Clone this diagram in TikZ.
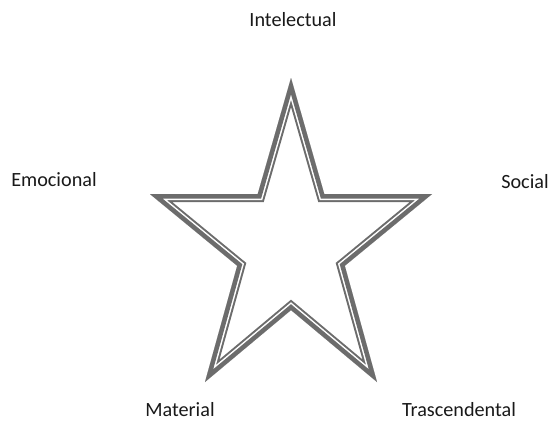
\documentclass[tikz,border=0pt]{standalone}
\usepackage{fontspec}
\setmainfont{Carlito}
\usetikzlibrary{positioning}
\definecolor{stargray}{RGB}{108,108,108}
\tikzset{lbl/.style={font=\fontsize{11.5}{13}\selectfont,text=black!90}}

\begin{document}
\begin{tikzpicture}[x=0.02cm,y=-0.02cm]
\useasboundingbox (0,0) rectangle (552,420);
% star corners, outer edge of the outline
\coordinate (tp) at (291,78);
\coordinate (iur) at (324.3,194.1);
\coordinate (rt) at (432,194.1);
\coordinate (ilr) at (344.8,265.8);
\coordinate (br) at (377,382);
\coordinate (ibt) at (291,310.1);
\coordinate (bl) at (205,382);
\coordinate (ill) at (237.2,265.8);
\coordinate (lf) at (150,194.1);
\coordinate (iul) at (257.7,194.1);
\def\starpath{(tp)--(iur)--(rt)--(ilr)--(br)--(ibt)--(bl)--(ill)--(lf)--(iul)--cycle}
% outline: thick band, white gap, thin line
\begin{scope}
\clip \starpath;
\draw[stargray,line width=0.32cm] \starpath;
\draw[white,line width=0.24cm] \starpath;
\draw[stargray,line width=0.18cm] \starpath;
\end{scope}
% labels
\node[lbl] (intel) at (293,20) {Intelectual};
\node[lbl] (emoc) at (54,180) {Emocional};
\node[lbl] (soc) at (525,182) {Social};
\node[lbl] (mat) at (180,410) {Material};
\node[lbl] (trasc) at (459,410) {Trascendental};
\end{tikzpicture}
\end{document}
